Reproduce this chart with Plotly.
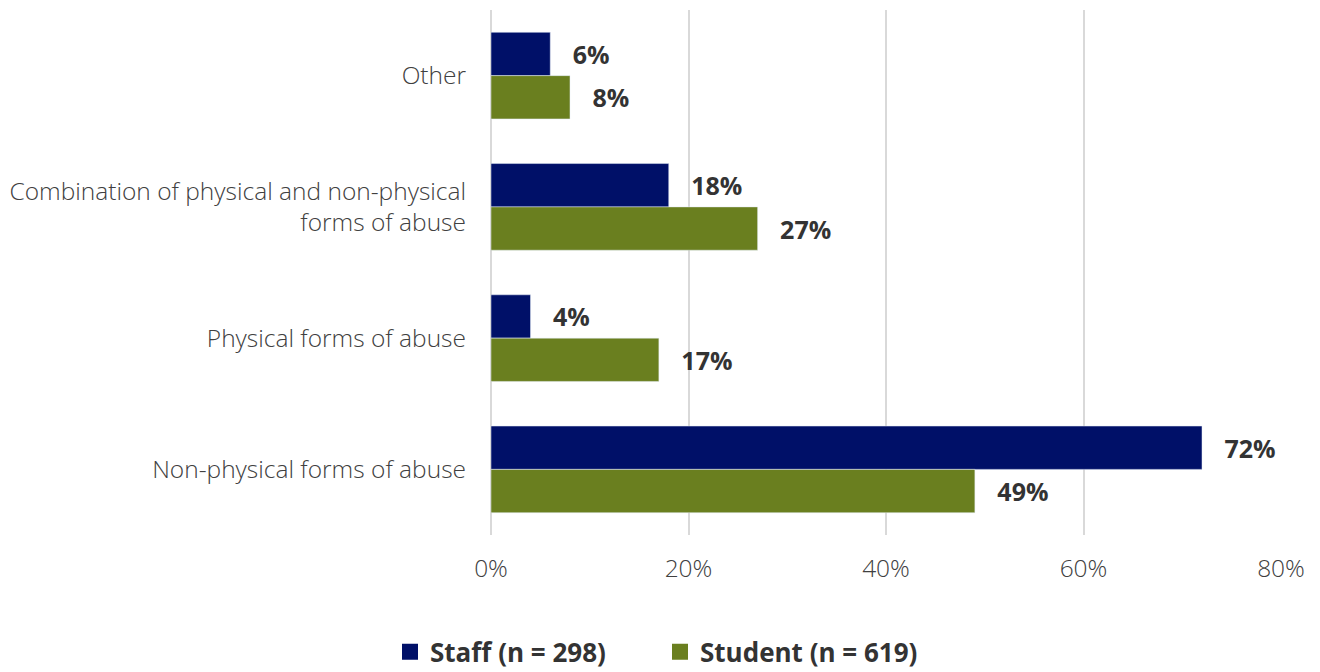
import plotly.graph_objects as go

categories = ["Other", "Combination of physical and non-physical<br>forms of abuse",
              "Physical forms of abuse", "Non-physical forms of abuse"]
staff = [6, 18, 4, 72]
student = [8, 27, 17, 49]
x_ticks = [0, 20, 40, 60, 80]
x_tick_labels = ["0%", "20%", "40%", "60%", "80%"]
series_names = ["Staff (n = 298)", "Student (n = 619)"]
series_colors = ["#001068", "#6A7F1F"]

label_font = dict(family="Open Sans", size=25, color="#333333", weight="bold")

fig = go.Figure()
for name, vals, col in zip(series_names, [staff, student], series_colors):
    fig.add_trace(go.Bar(
        y=categories, x=vals, orientation="h", name=name,
        marker=dict(color=col), showlegend=False,
        text=["%d%%" % v for v in vals], textposition="outside",
        texttemplate="   %{text}",
        textfont=label_font,
        cliponaxis=False,
    ))
# legend-only entries with larger square swatches
for name, col in zip(series_names, series_colors):
    fig.add_trace(go.Scatter(
        x=[None], y=[None], mode="markers", name=name,
        marker=dict(symbol="square", size=18, color=col),
    ))

tick_font = dict(family="Open Sans", size=24.5, color="#404040", weight=300)

fig.update_layout(
    width=1320, height=672,
    margin=dict(l=491, r=39, t=10, b=137),
    paper_bgcolor="white", plot_bgcolor="white",
    barmode="group", bargap=0.34, bargroupgap=0,
    font=dict(family="Open Sans", color="#404040"),
    xaxis=dict(range=[0, 80], tickvals=x_ticks, ticktext=x_tick_labels,
               showgrid=True, gridcolor="#d9d9d9", gridwidth=2,
               zeroline=True, zerolinecolor="#d9d9d9", zerolinewidth=2,
               showline=False,
               tickfont=tick_font,
               ticks="", ticklabelstandoff=16),
    yaxis=dict(autorange="reversed", showgrid=False, showline=False, ticks="",
               zeroline=False,
               tickfont=tick_font,
               ticklabelstandoff=24),
    legend=dict(orientation="h", xref="container", yref="container",
                x=0.5, xanchor="center", y=0.03, yanchor="middle",
                font=dict(family="Open Sans", size=26, color="#333333", weight="bold"),
                itemwidth=30, entrywidthmode="pixels", entrywidth=225,
                itemsizing="trace"),
)

fig.write_html("out.html")
